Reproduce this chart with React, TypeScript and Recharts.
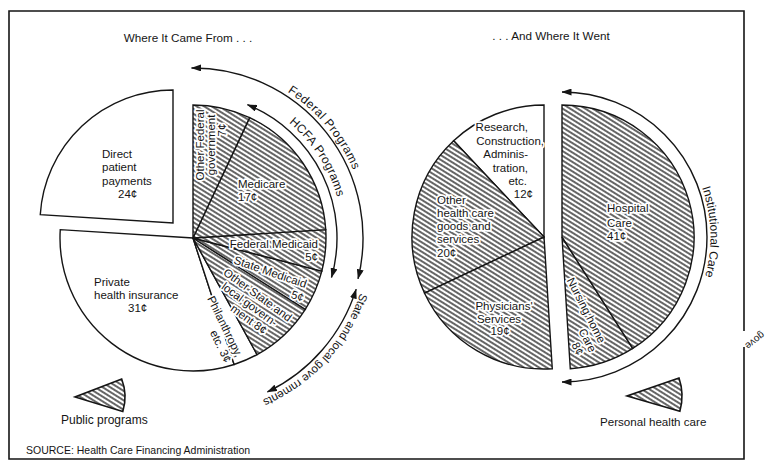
import { PieChart, Pie, Cell } from 'recharts';

// where the health dollar came from (cents), counter-clockwise from 12 o'clock
const sourceNames = [
  'Direct patient payments',
  'Private health insurance',
  'Philanthropy, etc.',
  'Other State and local government',
  'State Medicaid',
  'Federal Medicaid',
  'Medicare',
  'Other Federal government',
];
const sourceCents = [24, 31, 3, 8, 5, 5, 17, 7];
const sourcePublic = [false, false, false, true, true, true, true, true];

// where it went (cents)
const useNames = [
  'Research, Construction, Administration, etc.',
  'Other health care goods and services',
  "Physicians' Services",
  'Nursing home Care',
  'Hospital Care',
];
const useCents = [12, 20, 19, 8, 41];
const usePersonal = [false, true, true, true, true];

const explodedSource = 'Direct patient payments';
const federalPrograms = ['Federal Medicaid', 'Medicare', 'Other Federal government'];
const hcfaPrograms = ['Federal Medicaid', 'Medicare'];
const stateLocalPrograms = ['Other State and local government', 'State Medicaid'];
const institutionalCare = ['Nursing home Care', 'Hospital Care'];

const sources = sourceNames.map((name, i) => ({ name, value: sourceCents[i], hatched: sourcePublic[i] }));
const uses = useNames.map((name, i) => ({
  name,
  value: useCents[i],
  hatched: usePersonal[i],
  right: institutionalCare.includes(name),
}));
const swatch = [{ name: 'swatch', value: 1 }];

const INK = '#151515';
const FONT = '"Liberation Sans", Arial, Helvetica, sans-serif';
const RAD = Math.PI / 180;

const SRC = { cx: 193, cy: 238, r: 133, outDx: -20, outDy: -15 };
const USE = { cy: 237, r: 132, leftCx: 544, rightCx: 562 };

// same angles recharts uses: start 90, counter-clockwise
const sliceSpans = (values: number[]) => {
  const total = values.reduce((a, b) => a + b, 0);
  let a = 90;
  return values.map((v) => {
    const s = a;
    a += (v / total) * 360;
    return [s, a];
  });
};
const groupSpan = (group: string[], names: string[], values: number[]) => {
  const spans = sliceSpans(values);
  const idx = group.map((n) => names.indexOf(n));
  return [Math.min(...idx.map((i) => spans[i][0])), Math.max(...idx.map((i) => spans[i][1]))];
};

const pt = (cx: number, cy: number, r: number, a: number) =>
  `${(cx + r * Math.cos(a * RAD)).toFixed(2)},${(cy - r * Math.sin(a * RAD)).toFixed(2)}`;
// clockwise on screen, from angle hi down to angle lo
const arcPath = (cx: number, cy: number, r: number, hi: number, lo: number) =>
  `M${pt(cx, cy, r, hi)} A${r},${r} 0 ${hi - lo > 180 ? 1 : 0} 1 ${pt(cx, cy, r, lo)}`;

const fedSpan = groupSpan(federalPrograms, sourceNames, sourceCents);
const hcfaSpan = groupSpan(hcfaPrograms, sourceNames, sourceCents);
const stateSpan = groupSpan(stateLocalPrograms, sourceNames, sourceCents);
const instSpan = groupSpan(institutionalCare, useNames, useCents);

const arcNotes = [
  { id: 'fed', text: 'Federal Programs', cx: SRC.cx, cy: SRC.cy, r: 170, hi: fedSpan[1] + 0.5, lo: fedSpan[0] + 0.5, textR: 174, textAt: 40, size: 12, spacing: 0.5 },
  { id: 'hcfa', text: 'HCFA Programs', cx: SRC.cx, cy: SRC.cy, r: 144, hi: hcfaSpan[1] + 3, lo: hcfaSpan[0] - 1.5, textR: 150, textAt: 33, size: 12, spacing: 0.3 },
  { id: 'state', text: 'State and local gove rnments', cx: SRC.cx, cy: SRC.cy, r: 171, hi: stateSpan[1] - 3, lo: stateSpan[0] - 3, textR: 176, textAt: -42.5, size: 11.5, spacing: 0 },
  { id: 'inst', text: 'Institutional Care', cx: USE.rightCx, cy: USE.cy, r: 145, hi: instSpan[1], lo: 270, textR: 148.5, textAt: 2, size: 12, spacing: 0 },
];

type Line = [string, number, number];
type LabelSpec = { x: number; y: number; rot?: number; anchor: 'start' | 'middle' | 'end'; lines: Line[] };

const LABELS: Record<string, LabelSpec> = {
  'Direct patient payments': { x: 102, y: 158, anchor: 'start', lines: [['Direct', 0, 0], ['patient', 0, 13.3], ['payments', 0, 26.6], ['{v}', 16, 40]] },
  'Private health insurance': { x: 94, y: 286, anchor: 'start', lines: [['Private', 0, 0], ['health insurance', 0, 12.5], ['{v}', 34, 25.5]] },
  'Philanthropy, etc.': { x: 236, y: 358, rot: 64, anchor: 'end', lines: [['Philanthropy,', 0, 0], ['etc. {v}', 0, 12.5]] },
  'Other State and local government': { x: 222.6, y: 274.2, rot: 36, anchor: 'start', lines: [['Other State and', 0, 0], ['local govern-', 6.7, 12.5], ['ment {v}', 27, 25]] },
  'State Medicaid': { x: 305, y: 288, rot: 19, anchor: 'end', lines: [['State Medicaid', 0, 0], ['{v}', 2, 14]] },
  'Federal Medicaid': { x: 318, y: 248, anchor: 'end', lines: [['Federal Medicaid', 0, 0], ['{v}', 0, 12.5]] },
  Medicare: { x: 238, y: 188, anchor: 'start', lines: [['Medicare', 0, 0], ['{v}', 0, 12.5]] },
  'Other Federal government': { x: 203.5, y: 145, rot: -90, anchor: 'middle', lines: [['Other Federal', 0, 0], ['government', 0, 11], ['{v}', 15, 22.5]] },
  'Research, Construction, Administration, etc.': { x: 528, y: 131, anchor: 'end', lines: [['Research,', 0, 0], ['Construction,', 16, 14], ['Adminis-', 0, 27], ['tration,', 0, 40.7], ['etc.', -1, 54], ['{v}', 5, 67]] },
  'Other health care goods and services': { x: 437, y: 204, anchor: 'start', lines: [['Other', 0, 0], ['health care', 0, 12.7], ['goods and', 0, 26], ['services', 0, 39], ['{v}', 0, 52.7]] },
  "Physicians' Services": { x: 502, y: 310, anchor: 'middle', lines: [["Physicians'", 2, 0], ['Services', -3, 12.7], ['{v}', -2, 25]] },
  'Hospital Care': { x: 607, y: 212, anchor: 'start', lines: [['Hospital', 0, 0], ['Care', 0, 14.5], ['{v}', 0, 28]] },
  'Nursing home Care': { x: 599, y: 344, rot: 63, anchor: 'end', lines: [['Nursing home', 0, 0], ['Care', 4, 12.5], ['{v}', 1, 25]] },
};

const makeLabel = (names: string[], values: number[], visible: (name: string) => boolean) => (props: any) => {
  const name = names[props.index];
  const spec = LABELS[name];
  if (!spec || !visible(name)) return null;
  const cents = `${values[props.index]}¢`;
  return (
    <text
      transform={`translate(${spec.x},${spec.y}) rotate(${spec.rot ?? 0})`}
      textAnchor={spec.anchor}
      fontFamily={FONT}
      fontSize={11.5}
      fill={INK}
      stroke="#fff"
      strokeWidth={3.5}
      strokeLinejoin="round"
      paintOrder="stroke"
    >
      {spec.lines.map(([t, dx, dy], i) => (
        <tspan key={i} x={dx} y={dy}>
          {t.replace('{v}', cents)}
        </tspan>
      ))}
    </text>
  );
};

const sliceFill = (hatched: boolean) => (hatched ? 'url(#hatch)' : '#fff');
const txt = { fontFamily: FONT, fill: INK };
const noMargin = { top: 0, right: 0, bottom: 0, left: 0 };

export default function App() {
  return (
    <div style={{ width: 769, height: 468, background: '#fff' }}>
      <style>{'body{margin:0;background:#fff}'}</style>
      <PieChart width={769} height={468} margin={noMargin}>
        <defs>
          <pattern id="hatch" patternUnits="userSpaceOnUse" width="6" height="4" patternTransform="rotate(32)">
            <rect width="6" height="4" fill="#fff" />
            <line x1="0" y1="2" x2="6" y2="2" stroke="#000" strokeWidth="1.2" />
          </pattern>
          <marker id="head" viewBox="0 0 10 7" refX="9.5" refY="3.5" markerWidth="10" markerHeight="7" markerUnits="userSpaceOnUse" orient="auto-start-reverse">
            <path d="M0,0 L10,3.5 L0,7 z" fill={INK} />
          </marker>
          {arcNotes.map((a) => (
            <path key={a.id} id={`tp-${a.id}`} d={arcPath(a.cx, a.cy, a.textR, a.textAt + 80, a.textAt - 80)} fill="none" />
          ))}
        </defs>

        <Pie
          data={sources}
          dataKey="value"
          nameKey="name"
          cx={SRC.cx}
          cy={SRC.cy}
          outerRadius={SRC.r}
          startAngle={90}
          endAngle={450}
          isAnimationActive={false}
          labelLine={false}
          label={makeLabel(sourceNames, sourceCents, (n) => n !== explodedSource)}
        >
          {sources.map((s) => (
            <Cell
              key={s.name}
              fill={s.name === explodedSource ? 'none' : sliceFill(s.hatched)}
              stroke={s.name === explodedSource ? 'none' : INK}
              strokeWidth={1.4}
            />
          ))}
        </Pie>
        <Pie
          data={sources}
          dataKey="value"
          nameKey="name"
          cx={SRC.cx + SRC.outDx}
          cy={SRC.cy + SRC.outDy}
          outerRadius={SRC.r}
          startAngle={90}
          endAngle={450}
          isAnimationActive={false}
          labelLine={false}
          label={makeLabel(sourceNames, sourceCents, (n) => n === explodedSource)}
        >
          {sources.map((s) => (
            <Cell
              key={s.name}
              fill={s.name === explodedSource ? sliceFill(s.hatched) : 'none'}
              stroke={s.name === explodedSource ? INK : 'none'}
              strokeWidth={1.4}
            />
          ))}
        </Pie>

        <Pie
          data={uses}
          dataKey="value"
          nameKey="name"
          cx={USE.leftCx}
          cy={USE.cy}
          outerRadius={USE.r}
          startAngle={90}
          endAngle={450}
          isAnimationActive={false}
          labelLine={false}
          label={makeLabel(useNames, useCents, (n) => !institutionalCare.includes(n))}
        >
          {uses.map((u) => (
            <Cell key={u.name} fill={u.right ? 'none' : sliceFill(u.hatched)} stroke={u.right ? 'none' : INK} strokeWidth={1.4} />
          ))}
        </Pie>
        <Pie
          data={uses}
          dataKey="value"
          nameKey="name"
          cx={USE.rightCx}
          cy={USE.cy}
          outerRadius={USE.r}
          startAngle={90}
          endAngle={450}
          isAnimationActive={false}
          labelLine={false}
          label={makeLabel(useNames, useCents, (n) => institutionalCare.includes(n))}
        >
          {uses.map((u) => (
            <Cell key={u.name} fill={u.right ? sliceFill(u.hatched) : 'none'} stroke={u.right ? INK : 'none'} strokeWidth={1.4} />
          ))}
        </Pie>

        {/* legend swatches */}
        <Pie data={swatch} dataKey="value" cx={75} cy={397} outerRadius={50} startAngle={-17} endAngle={21} isAnimationActive={false}>
          <Cell fill="url(#hatch)" stroke={INK} strokeWidth={1.6} />
        </Pie>
        <Pie data={swatch} dataKey="value" cx={627} cy={396} outerRadius={55} startAngle={-16} endAngle={19} isAnimationActive={false}>
          <Cell fill="url(#hatch)" stroke={INK} strokeWidth={1.6} />
        </Pie>

        {/* bracket arrows with curved captions */}
        {arcNotes.map((a) => (
          <g key={a.id}>
            <path d={arcPath(a.cx, a.cy, a.r, a.hi, a.lo)} fill="none" stroke={INK} strokeWidth={1.4} markerStart="url(#head)" markerEnd="url(#head)" />
            <text {...txt} fontSize={a.size} letterSpacing={a.spacing}>
              <textPath href={`#tp-${a.id}`} startOffset="50%" textAnchor="middle">
                {a.text}
              </textPath>
            </text>
          </g>
        ))}

        {/* frame */}
        <path d="M744,331 V11 H9 V459 H744 V347" fill="none" stroke={INK} strokeWidth={1.6} />
        <text {...txt} fontSize={10} textAnchor="middle" transform="translate(753,338) rotate(142)">
          gove
        </text>

        <text {...txt} fontSize={11.7} x={188} y={42} textAnchor="middle">
          Where It Came From . . .
        </text>
        <text {...txt} fontSize={11.7} x={551} y={40} textAnchor="middle">
          . . . And Where It Went
        </text>
        <text {...txt} fontSize={12} x={61} y={424}>
          Public programs
        </text>
        <text {...txt} fontSize={11.6} x={600} y={426}>
          Personal health care
        </text>
        <text {...txt} fontSize={10.5} x={26} y={454}>
          SOURCE: Health Care Financing Administration
        </text>
      </PieChart>
    </div>
  );
}
